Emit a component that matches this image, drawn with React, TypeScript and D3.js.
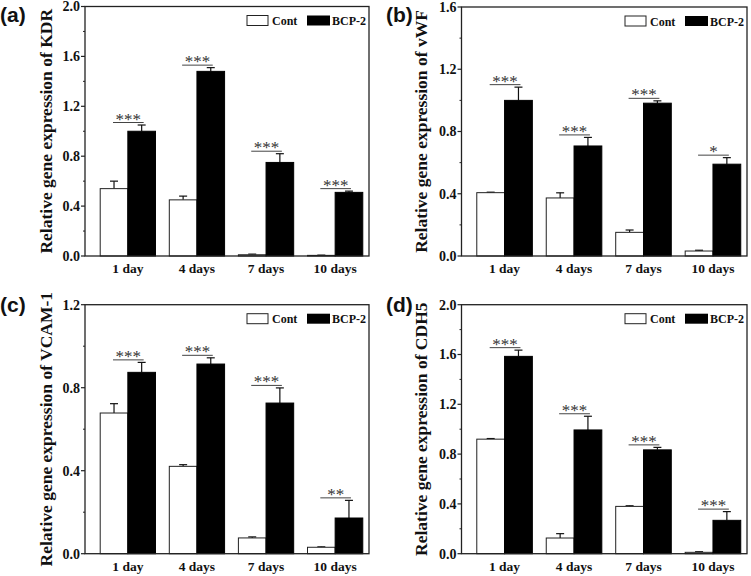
import React from "react";
import * as d3 from "d3";

const categories = ["1 day", "4 days", "7 days", "10 days"];
const seriesNames = ["Cont", "BCP-2"];

// (a) KDR
const kdrCont = [0.54, 0.45, 0.01, 0.005];
const kdrContErr = [0.06, 0.03, 0.005, 0.002];
const kdrBcp = [1.0, 1.48, 0.75, 0.51];
const kdrBcpErr = [0.05, 0.03, 0.07, 0.01];
const kdrStars = ["***", "***", "***", "***"];

// (b) vWF
const vwfCont = [0.407, 0.373, 0.152, 0.032];
const vwfContErr = [0.003, 0.033, 0.015, 0.005];
const vwfBcp = [1.0, 0.707, 0.982, 0.59];
const vwfBcpErr = [0.085, 0.055, 0.015, 0.042];
const vwfStars = ["***", "***", "***", "*"];

// (c) VCAM-1
const vcamCont = [0.678, 0.421, 0.076, 0.031];
const vcamContErr = [0.045, 0.008, 0.005, 0.002];
const vcamBcp = [0.874, 0.914, 0.726, 0.172];
const vcamBcpErr = [0.048, 0.03, 0.073, 0.085];
const vcamStars = ["***", "***", "***", "**"];

// (d) CDH5
const cdhCont = [0.92, 0.126, 0.38, 0.011];
const cdhContErr = [0.005, 0.035, 0.005, 0.005];
const cdhBcp = [1.585, 0.994, 0.834, 0.268];
const cdhBcpErr = [0.05, 0.11, 0.02, 0.07];
const cdhStars = ["***", "***", "***", "***"];

const SERIF = "'Liberation Serif', 'Times New Roman', serif";
const SANS = "'Liberation Sans', Arial, sans-serif";

type PanelProps = {
  letter: string;
  gene: string;
  yMax: number;
  left: number;
  right: number;
  top: number;
  bottom: number;
  cont: number[];
  contErr: number[];
  bcp: number[];
  bcpErr: number[];
  stars: string[];
  letterX: number;
  letterY: number;
  titleX: number;
};

function Panel(p: PanelProps) {
  const x = d3.scaleLinear().domain([-0.62, 3.49]).range([p.left, p.right]);
  const y = d3.scaleLinear().domain([0, p.yMax]).range([p.bottom, p.top]);
  const bw = 0.4;
  const major = d3.range(0, p.yMax + 1e-6, 0.4);
  const minor = d3.range(0.2, p.yMax, 0.4);
  const capW = 4;
  const axisColor = "#222";
  return (
    <g>
      <text x={p.letterX} y={p.letterY} fontFamily={SANS} fontSize={21} fontWeight="bold" fill="#111">
        ({p.letter})
      </text>
      <text
        transform={`translate(${p.titleX},${(p.top + p.bottom) / 2}) rotate(-90)`}
        textAnchor="middle"
        fontFamily={SERIF}
        fontWeight="bold"
        fontSize={17.5}
        fill="#111"
      >
        Relative gene expression of {p.gene}
      </text>
      {/* bars */}
      {categories.map((c, i) => {
        const cx = x(i);
        const wx0 = x(i - bw);
        const bx1 = x(i + bw);
        const wTop = y(p.cont[i]);
        const bTop = y(p.bcp[i]);
        const wErr = y(p.cont[i] + p.contErr[i]);
        const bErr = y(p.bcp[i] + p.bcpErr[i]);
        const wc = x(i - bw / 2);
        const bc = x(i + bw / 2);
        const lineY = Math.min(wErr, bErr) - 2.5;
        return (
          <g key={c}>
            <line x1={wc} x2={wc} y1={wTop} y2={wErr} stroke="#111" strokeWidth={1.2} />
            <line x1={wc - capW} x2={wc + capW} y1={wErr} y2={wErr} stroke="#111" strokeWidth={1.2} />
            <line x1={bc} x2={bc} y1={bTop} y2={bErr} stroke="#111" strokeWidth={1.2} />
            <line x1={bc - capW} x2={bc + capW} y1={bErr} y2={bErr} stroke="#111" strokeWidth={1.2} />
            <rect x={wx0} y={wTop} width={cx - wx0} height={p.bottom - wTop} fill="#fff" stroke="#222" strokeWidth={1} />
            <rect x={cx} y={bTop} width={bx1 - cx} height={p.bottom - bTop} fill="#000" stroke="#000" strokeWidth={1} />
            <line x1={wc - 1} x2={bc + 2} y1={lineY} y2={lineY} stroke="#444" strokeWidth={1} />
            <text x={(wc + bc) / 2 + 0.5} y={lineY + 2} textAnchor="middle" fontFamily={SERIF} fontSize={17} fill="#333">
              {p.stars[i]}
            </text>
            <text x={cx} y={p.bottom + 17} textAnchor="middle" fontFamily={SERIF} fontWeight="bold" fontSize={13.5} fill="#111">
              {c}
            </text>
          </g>
        );
      })}
      {/* frame */}
      <rect x={p.left} y={p.top} width={p.right - p.left} height={p.bottom - p.top} fill="none" stroke={axisColor} strokeWidth={1.3} />
      {/* y ticks */}
      {major.map((v) => (
        <g key={"M" + v}>
          <line x1={p.left - 4} x2={p.left} y1={y(v)} y2={y(v)} stroke={axisColor} strokeWidth={1.2} />
          <text x={p.left - 5} y={y(v)} dy="0.35em" textAnchor="end" fontFamily={SERIF} fontWeight="bold" fontSize={14} fill="#111">
            {d3.format(".1f")(v)}
          </text>
        </g>
      ))}
      {minor.map((v) => (
        <line key={"m" + v} x1={p.left - 2} x2={p.left} y1={y(v)} y2={y(v)} stroke={axisColor} strokeWidth={1} />
      ))}
      {/* legend */}
      <g transform={`translate(${p.right - 122},${p.top + 9})`}>
        <rect x={0} y={0} width={21} height={10} fill="#fff" stroke="#222" strokeWidth={1} />
        <text x={25} y={9.5} fontFamily={SERIF} fontWeight="bold" fontSize={12} fill="#111">
          {seriesNames[0]}
        </text>
        <rect x={60} y={0} width={23} height={10} fill="#000" />
        <text x={85} y={9.5} fontFamily={SERIF} fontWeight="bold" fontSize={12} fill="#111">
          {seriesNames[1]}
        </text>
      </g>
    </g>
  );
}

export default function App() {
  return (
    <svg
      width={751}
      height={576}
      style={{ position: "absolute", left: 0, top: 0, background: "#fff" }}
    >
      <rect x={0} y={0} width={751} height={576} fill="#fff" />
      <Panel letter="a" gene="KDR" yMax={2.0} left={85} right={369} top={6.5} bottom={256}
        cont={kdrCont} contErr={kdrContErr} bcp={kdrBcp} bcpErr={kdrBcpErr} stars={kdrStars}
        letterX={0} letterY={22} titleX={52} />
      <Panel letter="b" gene="vWF" yMax={1.6} left={461.5} right={747} top={7} bottom={256}
        cont={vwfCont} contErr={vwfContErr} bcp={vwfBcp} bcpErr={vwfBcpErr} stars={vwfStars}
        letterX={386} letterY={22} titleX={427} />
      <Panel letter="c" gene="VCAM-1" yMax={1.2} left={85} right={369} top={304.7} bottom={553.7}
        cont={vcamCont} contErr={vcamContErr} bcp={vcamBcp} bcpErr={vcamBcpErr} stars={vcamStars}
        letterX={0} letterY={312} titleX={52} />
      <Panel letter="d" gene="CDH5" yMax={2.0} left={461.5} right={747} top={304.7} bottom={553.7}
        cont={cdhCont} contErr={cdhContErr} bcp={cdhBcp} bcpErr={cdhBcpErr} stars={cdhStars}
        letterX={386} letterY={312} titleX={427} />
    </svg>
  );
}
